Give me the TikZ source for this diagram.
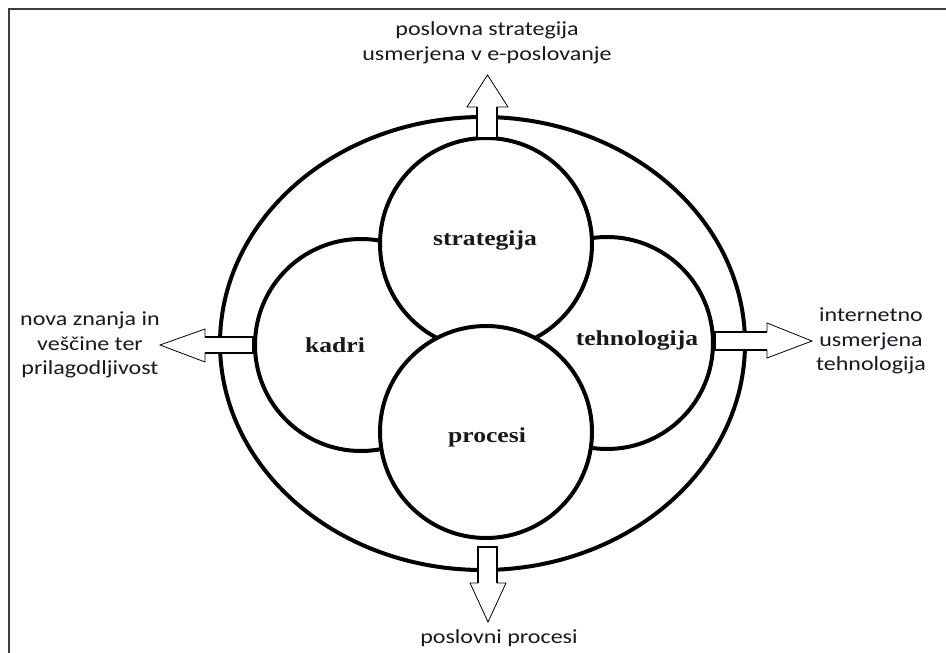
\documentclass[tikz,border=0pt]{standalone}
\usepackage{fontspec}
\setmainfont{Liberation Serif}
\newfontfamily\lblfont[FakeStretch=1.2]{Carlito}
\newfontfamily\keyfont[FakeStretch=1.2]{Liberation Serif}
\usetikzlibrary{shapes.geometric}

\definecolor{ink}{RGB}{24,24,32}
\definecolor{framegray}{RGB}{60,60,60}

\tikzset{
  ring/.style={ellipse, draw=black, line width=3pt, inner sep=0pt,
               minimum width=393.75pt, minimum height=339.75pt},
  disc/.style={circle, draw=black, line width=3pt, fill=white, inner sep=0pt,
               minimum size=159pt},
  keytext/.style={font=\keyfont\bfseries\fontsize{16pt}{19pt}\selectfont,
                  text=ink, inner sep=0pt},
  outtext/.style={font=\lblfont\fontsize{15pt}{18.4pt}\selectfont,
                  text=ink, align=center, inner sep=0pt},
  headline/.style={draw=black, line width=0.6pt, fill=white, line join=miter},
  shaftline/.style={draw=black, line width=1.2pt},
  pageframe/.style={draw=framegray, line width=2pt}
}

\begin{document}
\begin{tikzpicture}[x=0.75pt, y=-0.75pt]
  \useasboundingbox (0,0) rectangle (946,653);

  % page frame: top and left edges only
  \draw[pageframe] (9,653) -- (9,9) -- (946,9);

  % outer boundary
  \node[ring] (outer) at (482.5,343.5) {};

  % four overlapping circles
  \node[disc] (kadri) at (361,345) {};
  \node[disc] (tehno) at (607,343) {};
  \node[disc] (strat) at (486,244) {};
  \node[disc] (proc)  at (486,432) {};

  % circle captions
  \node[keytext] (kStrat) at (485,240) {strategija};
  \node[keytext] (kKadri) at (335,345) {kadri};
  \node[keytext] (kTehno) at (637,340) {tehnologija};
  \node[keytext] (kProc)  at (487,437) {procesi};

  % block arrow up
  \path[headline] (477,138) -- (477,107) -- (467,107) -- (487.5,75)
        -- (508,107) -- (497,107) -- (497,138) -- cycle;
  \draw[shaftline] (477,107) -- (477,138) -- (497,138) -- (497,107);

  % block arrow down
  \path[headline] (478,547) -- (478,583) -- (470,583) -- (488,622)
        -- (506,583) -- (497,583) -- (497,547) -- cycle;
  \draw[shaftline] (478,583) -- (478,547) -- (497,547) -- (497,583);

  % block arrow left
  \path[headline] (253,337) -- (205,337) -- (205,329) -- (160,345)
        -- (205,362) -- (205,353) -- (253,353) -- cycle;
  \draw[shaftline] (205,337) -- (253,337) -- (253,353) -- (205,353);

  % block arrow right
  \path[headline] (715,332) -- (767,332) -- (767,323) -- (812,341)
        -- (767,358) -- (767,350) -- (715,350) -- cycle;
  \draw[shaftline] (767,332) -- (715,332) -- (715,350) -- (767,350);

  % outer labels
  \node[outtext] (oStrat) at (487,43) {poslovna strategija\\usmerjena v e-poslovanje};
  \node[outtext] (oKadri) at (90,345) {nova znanja in\\veščine ter\\prilagodljivost};
  \node[outtext] (oTehno) at (871,341) {internetno\\usmerjena\\tehnologija};
  \node[outtext] (oProc)  at (499,638) {poslovni procesi};
\end{tikzpicture}
\end{document}
